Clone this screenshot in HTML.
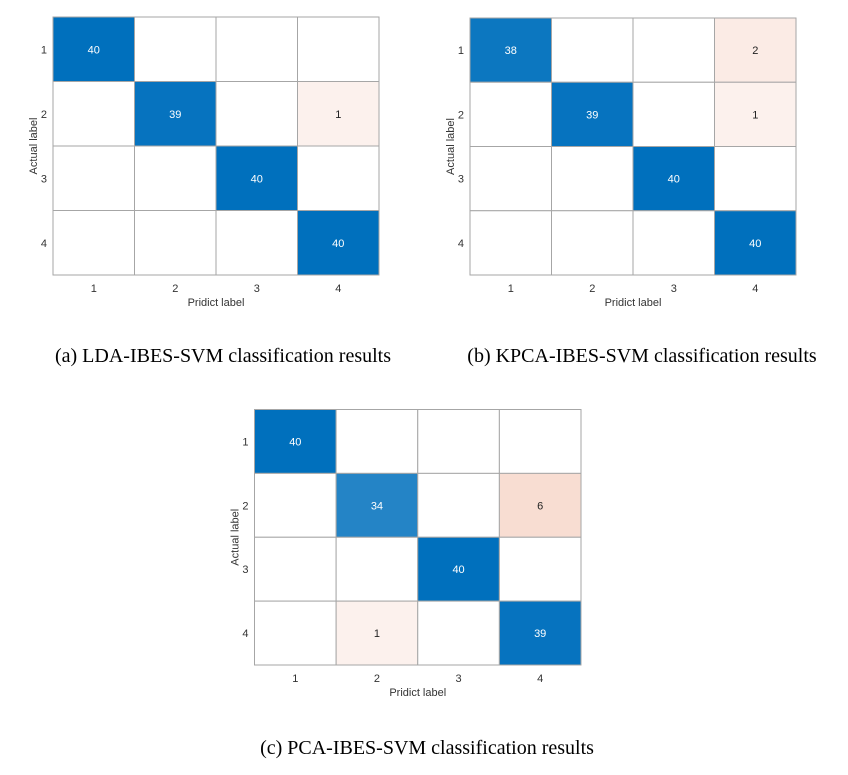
<!DOCTYPE html>
<html><head><meta charset="utf-8"><style>
body{margin:0;background:#fff;width:848px;height:775px;overflow:hidden;position:relative}
svg{position:absolute;left:0;top:0}
.cap{position:absolute;font-family:"Liberation Serif",serif;font-size:20px;color:#000;white-space:nowrap;transform:translateX(-50%)}
</style></head><body>
<svg id="s" width="848" height="775"></svg>
<div class="cap" style="left:223px;top:345px">(a) LDA-IBES-SVM classification results</div>
<div class="cap" style="left:642px;top:345px">(b) KPCA-IBES-SVM classification results</div>
<div class="cap" style="left:427px;top:737px">(c) PCA-IBES-SVM classification results</div>
<script>
const classLabels = ["1","2","3","4"];
const matrixA = [[40,0,0,0],[0,39,0,1],[0,0,40,0],[0,0,0,40]];
const matrixB = [[38,0,0,2],[0,39,0,1],[0,0,40,0],[0,0,0,40]];
const matrixC = [[40,0,0,0],[0,34,0,6],[0,0,40,0],[0,1,0,39]];
const xTitle = "Pridict label";
const yTitle = "Actual label";

const NS="http://www.w3.org/2000/svg";
const svg=document.getElementById('s');
function mk(tag,attrs,parent){const e=document.createElementNS(NS,tag);for(const k in attrs)e.setAttribute(k,attrs[k]);(parent||svg).appendChild(e);return e;}
function lerp(a,b,t){return a.map((v,i)=>Math.round(v+(b[i]-v)*t));}
function col(v,diag){
  if(v===0)return "#ffffff";
  let c;
  if(diag){const t=Math.max(0,Math.min(1,(v-30)/10));c=lerp([60,145,204],[0,112,189],t);}
  else{const t=Math.min(1,Math.sqrt(v/6));c=lerp([255,255,255],[248,221,210],t);}
  return "rgb("+c.join(",")+")";
}
function chart(id,m,L,T,R,B){
  const g=mk('g',{});
  
  
  const n=classLabels.length,cw=(R-L)/n,ch=(B-T)/n;
  const xs=i=>L+i*cw, ys=i=>T+i*ch;
  m.forEach((row,r)=>row.forEach((v,c)=>{
    const rect=mk('rect',{x:xs(c),y:ys(r),width:cw,height:ch,fill:col(v,r===c),stroke:"#a6a6a6","stroke-width":1},g);
    
    
    if(v>0){
      const t=mk('text',{x:xs(c)+cw/2,y:ys(r)+ch/2+4,"text-anchor":"middle","font-family":"Liberation Sans, sans-serif","font-size":"11",fill:(r===c?"#ffffff":"#222")},g);
      t.textContent=v;
      
      
    }
  }));
  classLabels.forEach((lab,i)=>{
    const tx=mk('text',{x:xs(i)+cw/2,y:B+17,"text-anchor":"middle","font-family":"Liberation Sans, sans-serif","font-size":"11",fill:"#333"},g);
    tx.textContent=lab;
    
    
    const ty=mk('text',{x:L-6,y:ys(i)+ch/2+4,"text-anchor":"end","font-family":"Liberation Sans, sans-serif","font-size":"11",fill:"#333"},g);
    ty.textContent=lab;
    
    
  });
  const xt=mk('text',{x:(L+R)/2,y:B+31,"text-anchor":"middle","font-family":"Liberation Sans, sans-serif","font-size":"11",fill:"#333"},g);
  xt.textContent=xTitle;
  
  
  const yx=L-16,yy=(T+B)/2;
  const yt=mk('text',{x:yx,y:yy,"text-anchor":"middle","font-family":"Liberation Sans, sans-serif","font-size":"11",fill:"#333",transform:"rotate(-90 "+yx+" "+yy+")"},g);
  yt.textContent=yTitle;
  
  
}
chart('a',matrixA,53,17,379,275);
chart('b',matrixB,470,18,796,275);
chart('c',matrixC,254.5,409.5,581,665);
</script>
</body></html>
